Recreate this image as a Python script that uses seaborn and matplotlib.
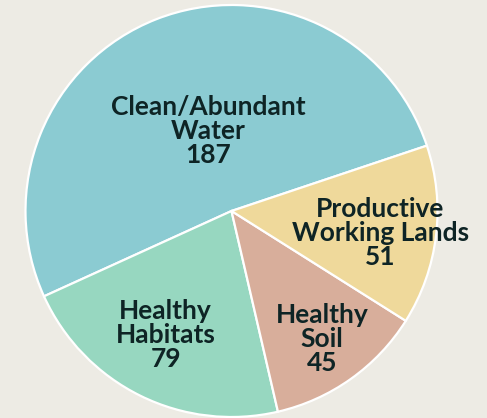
import numpy as np
import matplotlib
matplotlib.use("Agg")
import matplotlib.pyplot as plt
import seaborn as sns

# data, in drawing order (counter-clockwise from the start angle)
categories = ["Clean/Abundant\nWater", "Healthy\nHabitats", "Healthy\nSoil", "Productive\nWorking Lands"]
values = [187, 79, 45, 51]
colors = ["#8BCBD2", "#97D7C0", "#D8AE9B", "#EFD99B"]

# label placement: fraction of radius and angle nudge (deg) from each slice's mid angle
label_radius = [0.405, 0.68, 0.76, 0.73]
label_turn = [-5.0, -1.8, 0.0, -1.5]

BG = "#EDEBE4"
TXT = "#0E2425"

sns.set_theme(style="white")
plt.rcParams["font.family"] = ["Lato", "DejaVu Sans"]

fig = plt.figure(figsize=(4.87, 4.18), dpi=100, facecolor=BG)
R = 206
cx, cy = 231.5, 418 - 211
ax = fig.add_axes([(cx - R) / 487, (cy - R) / 418, 2 * R / 487, 2 * R / 418])
ax.set_facecolor(BG)

start = 18.5
wedges, _ = ax.pie(values, colors=sns.color_palette(colors), startangle=start,
                   counterclock=True, radius=1.0,
                   wedgeprops=dict(edgecolor="white", linewidth=1.6))

total = sum(values)
angle = start
for cat, v, r, turn in zip(categories, values, label_radius, label_turn):
    span = 360.0 * v / total
    mid = np.deg2rad(angle + span / 2 + turn)
    angle += span
    ax.text(r * np.cos(mid), r * np.sin(mid), f"{cat}\n{v}", ha="center", va="center",
            fontsize=19, fontweight="bold", color=TXT, linespacing=1.0)

ax.set_xlim(-1, 1)
ax.set_ylim(-1, 1)
ax.set_aspect("equal")
ax.axis("off")

fig.savefig("out.png", dpi=100, facecolor=BG)
